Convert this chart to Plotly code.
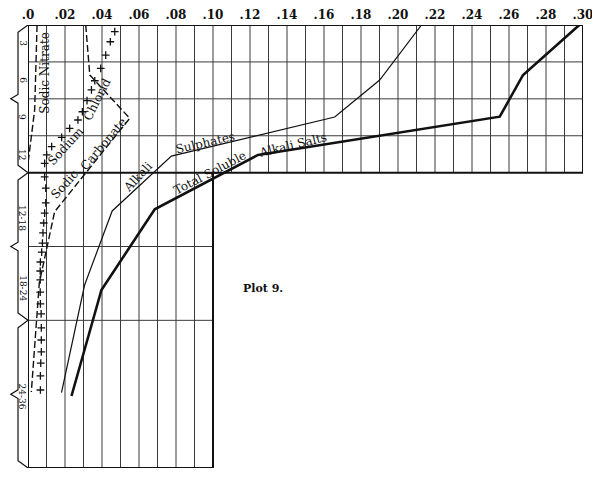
import plotly.graph_objects as go

# ---- axis / grid structure ----
x_tick_vals = [i / 100 for i in range(0, 31, 2)]
x_tick_text = [".0", ".02", ".04", ".06", ".08", ".10", ".12", ".14", ".16",
               ".18", ".20", ".22", ".24", ".26", ".28", ".30"]
grid_x_upper = [i / 100 for i in range(0, 31)]
grid_x_lower = [i / 100 for i in range(0, 11)]
rows_upper = [3, 6, 9]
rows_lower = [18, 24]
upper_bottom = 12
lower_bottom = 36
upper_right = 0.30
lower_right = 0.10

depth_labels = ["3", "6", "9", "12", "12-18", "18-24", "24-36"]
depth_label_pos = [1.5, 4.5, 7.5, 10.5, 15.7, 21.4, 30.2]
braces = [(0, 12, 6), (12, 24, 18), (24, 36, 30)]

# ---- series (depth in feet, percent) ----
total_depth = [0, 4.06, 7.45, 10.56, 14.98, 21.53, 30.15]
total_value = [0.298, 0.2676, 0.255, 0.1243, 0.0685, 0.0397, 0.0235]

sulph_depth = [0, 4.47, 7.48, 10.65, 15.11, 21.13, 29.88]
sulph_value = [0.2127, 0.1901, 0.1658, 0.0775, 0.0455, 0.0306, 0.0181]

carb_depth = [0, 4.06, 7.58, 15.17, 20.97, 29.82]
carb_value = [0.0312, 0.0334, 0.055, 0.0144, 0.0061, 0.0018]

nitrate_depth = [0, 6.9, 11.24]
nitrate_value = [0.0049, 0.0036, 0.0]

chlorid_depth = [0.54, 1.36, 2.44, 3.52, 4.53, 5.28, 6.15, 7.05, 7.72, 8.40,
                 9.13, 9.89, 10.56, 11.24, 12.35, 13.25, 14.46, 15.28, 16.09,
                 16.90, 17.72, 18.45, 19.26, 19.99, 20.72, 21.70, 22.67, 23.48,
                 24.62, 25.60, 26.57, 27.47, 28.52, 29.66]
chlorid_value = [0.0469, 0.0445, 0.0420, 0.0393, 0.0361, 0.0343, 0.0319, 0.0294,
                 0.0270, 0.0225, 0.0182, 0.0128, 0.0101, 0.0090, 0.0090, 0.0096,
                 0.0096, 0.0090, 0.0085, 0.0081, 0.0078, 0.0074, 0.0067, 0.0066,
                 0.0066, 0.0066, 0.0067, 0.0071, 0.0072, 0.0072, 0.0072, 0.0069,
                 0.0067, 0.0067]

INK = "#111111"
GRID = "#3a3a3a"
SERIF = "DejaVu Serif"

fig = go.Figure()

fig.add_trace(go.Scatter(x=total_value, y=total_depth, mode="lines",
                         line=dict(color=INK, width=2.6), showlegend=False))
fig.add_trace(go.Scatter(x=sulph_value, y=sulph_depth, mode="lines",
                         line=dict(color=INK, width=1.2), showlegend=False))
fig.add_trace(go.Scatter(x=carb_value, y=carb_depth, mode="lines",
                         line=dict(color=INK, width=1.4, dash="7px,3px"),
                         showlegend=False))
fig.add_trace(go.Scatter(x=nitrate_value, y=nitrate_depth, mode="lines",
                         line=dict(color=INK, width=1.4, dash="7px,3px"),
                         showlegend=False))
fig.add_trace(go.Scatter(x=chlorid_value, y=chlorid_depth, mode="markers",
                         marker=dict(symbol="cross-thin", size=5.5,
                                     line=dict(color=INK, width=1.3)),
                         showlegend=False))

shapes = []
# vertical grid
for gx in grid_x_upper:
    shapes.append(dict(type="line", x0=gx, x1=gx, y0=0, y1=upper_bottom,
                       line=dict(color=GRID, width=1), layer="below"))
for gx in grid_x_lower:
    shapes.append(dict(type="line", x0=gx, x1=gx, y0=upper_bottom, y1=lower_bottom,
                       line=dict(color=GRID, width=1), layer="below"))
# horizontal grid
for r in rows_upper:
    shapes.append(dict(type="line", x0=0, x1=upper_right, y0=r, y1=r,
                       line=dict(color=GRID, width=1), layer="below"))
for r in rows_lower:
    shapes.append(dict(type="line", x0=0, x1=lower_right, y0=r, y1=r,
                       line=dict(color=GRID, width=1), layer="below"))
# frame
frame = [
    (0, upper_right, 0, 0),
    (upper_right, upper_right, 0, upper_bottom),
    (0, upper_right, upper_bottom, upper_bottom),
    (lower_right, lower_right, upper_bottom, lower_bottom),
    (0, lower_right, lower_bottom, lower_bottom),
    (0, 0, 0, lower_bottom),
]
for x0, x1, y0, y1 in frame:
    shapes.append(dict(type="line", x0=x0, x1=x1, y0=y0, y1=y1,
                       line=dict(color=INK, width=2), layer="below"))
# braces in left margin
for d0, d1, mid in braces:
    path = (f"M 0 {d0} L -0.018 {d0 + 0.6} L -0.018 {mid - 0.35} "
            f"L -0.031 {mid} L -0.018 {mid + 0.35} L -0.018 {d1 - 0.6} L 0 {d1}")
    shapes.append(dict(type="path", path=path, xref="paper", yref="y",
                       line=dict(color=INK, width=1.2)))

annotations = []
for lab, pos in zip(depth_labels, depth_label_pos):
    annotations.append(dict(text=lab, x=-0.0105, y=pos, xref="paper", yref="y",
                            xanchor="center", yanchor="middle",
                            showarrow=False, textangle=90,
                            font=dict(family=SERIF, size=9, color=INK)))

series_labels = [
    ("Sodic Nitrate", 0.0090, 3.9, -90),
    ("Sodium", 0.0206, 9.87, -48),
    ("Chlorid", 0.0374, 6.0, -63),
    ("Sodic", 0.0201, 12.96, -48),
    ("Carbonate", 0.0409, 9.71, -50),
    ("Alkali", 0.0594, 12.35, -47),
    ("Sulphates", 0.0956, 9.59, -13),
    ("Total Soluble", 0.0982, 11.99, -27.6),
    ("Alkali Salts", 0.1431, 9.75, -13.4),
]
for txt, ax, ay, ang in series_labels:
    annotations.append(dict(text=txt, x=ax, y=ay, showarrow=False, textangle=ang,
                            xanchor="center", yanchor="middle",
                            font=dict(family=SERIF, size=12, color=INK)))

annotations.append(dict(text="<b>Plot 9.</b>", x=0.1269, y=21.45, showarrow=False,
                        xanchor="center", yanchor="middle",
                        font=dict(family=SERIF, size=11, color=INK)))

# page body adds an 8px offset, so the figure is sized/margined to compensate
fig.update_layout(
    width=592, height=469, autosize=False,
    margin=dict(l=20, r=17, t=17, b=9),
    paper_bgcolor="white", plot_bgcolor="white",
    xaxis=dict(range=[0, 0.30], side="top", showgrid=False, zeroline=False,
               showline=False, ticks="", tickvals=x_tick_vals, ticktext=x_tick_text,
               tickfont=dict(family=SERIF, size=12, color=INK, weight="bold"),
               ticklabelstandoff=3, fixedrange=True, automargin=False),
    yaxis=dict(range=[36, 0], visible=False, fixedrange=True, automargin=False),
    shapes=shapes,
    annotations=annotations,
)

fig.write_html("out.html")
